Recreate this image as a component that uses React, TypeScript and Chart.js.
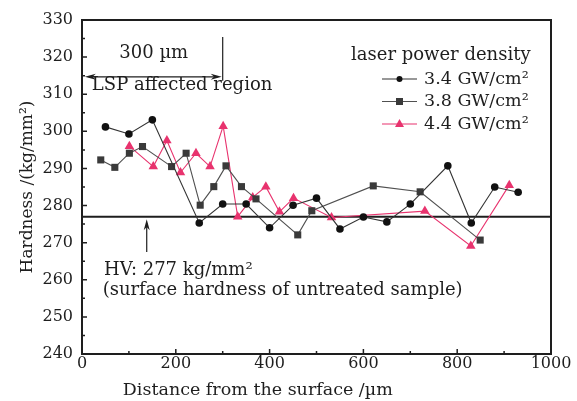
import { useEffect, useRef } from "react";
import { Chart, registerables } from "chart.js";

Chart.register(...registerables);

// ---- data ----
const xTicks = [0, 200, 400, 600, 800, 1000];
const yTicks = [240, 250, 260, 270, 280, 290, 300, 310, 320, 330];

const seriesLabels = ["3.4 GW/cm²", "3.8 GW/cm²", "4.4 GW/cm²"];

const dist34 = [50, 100, 150, 250, 300, 350, 400, 450, 500, 550, 600, 650, 700, 780, 830, 880, 930];
const hard34 = [301.2, 299.3, 303.1, 275.3, 280.4, 280.4, 274.0, 280.1, 282.0, 273.7, 276.9, 275.6, 280.4, 290.7, 275.3, 285.0, 283.6];

const dist38 = [40, 70, 101, 129, 191, 222, 252, 281, 307, 340, 371, 460, 490, 621, 721, 849];
const hard38 = [292.3, 290.3, 294.1, 295.9, 290.5, 294.1, 280.1, 285.1, 290.7, 285.1, 281.8, 272.1, 278.6, 285.3, 283.7, 270.7];

const dist44 = [101, 152, 181, 210, 243, 273, 301, 332, 364, 392, 421, 451, 532, 731, 829, 911];
const hard44 = [296.0, 290.5, 297.5, 288.9, 294.1, 290.5, 301.4, 277.0, 282.2, 285.1, 278.3, 282.0, 276.8, 278.5, 269.1, 285.5];

const untreatedHV = 277;
const lspDepth = 300;

const xTitle = "Distance from the surface /µm";
const yTitle = "Hardness /(kg/mm²)";

// annotation anchor points in data units
const ANN = {
  rangeText: { x: 153, y: 321.1 },
  rangeArrowY: 314.7,
  rangeArrowFrom: 6,
  rangeBarTop: 325.4,
  rangeBarBottom: 313.6,
  regionText: { x: 21, y: 312.5 },
  upArrowX: 138,
  upArrowFrom: 267.5,
  upArrowTo: 276.3,
  hvText: { x: 47, y: 262.6 },
  hvText2: { x: 44, y: 257.2 },
  xTitleStart: 87,
};

const FONT = '"DejaVu Serif", serif';
const INK = "#1e1e1e";
const PINK = "#e8336e";

function pts(xs: number[], ys: number[]) {
  return xs.map((x, i) => ({ x, y: ys[i] }));
}

function arrowHead(ctx: CanvasRenderingContext2D, tx: number, ty: number, dx: number, dy: number, len = 10, half = 3) {
  const px = -dy, py = dx;
  ctx.beginPath();
  ctx.moveTo(tx, ty);
  ctx.lineTo(tx - dx * len + px * half, ty - dy * len + py * half);
  ctx.lineTo(tx - dx * len * 0.7, ty - dy * len * 0.7);
  ctx.lineTo(tx - dx * len - px * half, ty - dy * len - py * half);
  ctx.closePath();
  ctx.fill();
}

const decor = {
  id: "decor",
  beforeDatasetsDraw(chart: any) {
    const { ctx, chartArea: a, scales } = chart;
    const y = scales.y.getPixelForValue(untreatedHV);
    ctx.save();
    ctx.strokeStyle = INK;
    ctx.lineWidth = 2;
    ctx.beginPath();
    ctx.moveTo(a.left, y);
    ctx.lineTo(a.right, y);
    ctx.stroke();
    ctx.restore();
  },
  afterDraw(chart: any) {
    const { ctx, chartArea: a, scales } = chart;
    const xs = scales.x, ys = scales.y;
    ctx.save();
    ctx.strokeStyle = INK;
    ctx.fillStyle = INK;
    // frame top/right
    ctx.lineWidth = 2;
    ctx.beginPath();
    ctx.moveTo(a.left, a.top);
    ctx.lineTo(a.right, a.top);
    ctx.lineTo(a.right, a.bottom);
    ctx.stroke();
    // inward ticks
    ctx.lineWidth = 1.5;
    ctx.beginPath();
    for (let v = 240; v <= 330; v += 5) {
      const p = ys.getPixelForValue(v);
      const len = v % 10 === 0 ? 5 : 3;
      ctx.moveTo(a.left, p);
      ctx.lineTo(a.left + len, p);
    }
    for (let v = 0; v <= 1000; v += 100) {
      const p = xs.getPixelForValue(v);
      const len = v % 200 === 0 ? 5 : 3;
      ctx.moveTo(p, a.bottom);
      ctx.lineTo(p, a.bottom - len);
    }
    ctx.stroke();

    // LSP range arrow
    const ay = ys.getPixelForValue(ANN.rangeArrowY);
    const ax0 = xs.getPixelForValue(ANN.rangeArrowFrom);
    const ax1 = xs.getPixelForValue(lspDepth) - 1;
    ctx.lineWidth = 1.2;
    ctx.beginPath();
    ctx.moveTo(ax0 + 4, ay);
    ctx.lineTo(ax1 - 4, ay);
    ctx.stroke();
    arrowHead(ctx, ax0, ay, -1, 0, 11, 3);
    arrowHead(ctx, ax1, ay, 1, 0, 11, 3);
    const bx = xs.getPixelForValue(lspDepth);
    ctx.beginPath();
    ctx.moveTo(bx, ys.getPixelForValue(ANN.rangeBarTop));
    ctx.lineTo(bx, ys.getPixelForValue(ANN.rangeBarBottom));
    ctx.stroke();

    // up arrow to HV line
    const ux = xs.getPixelForValue(ANN.upArrowX);
    const uy0 = ys.getPixelForValue(ANN.upArrowFrom);
    const uy1 = ys.getPixelForValue(ANN.upArrowTo);
    ctx.beginPath();
    ctx.moveTo(ux, uy0);
    ctx.lineTo(ux, uy1 + 4);
    ctx.stroke();
    arrowHead(ctx, ux, uy1, 0, -1, 11, 3);

    // texts
    ctx.font = `18px ${FONT}`;
    ctx.textBaseline = "middle";
    ctx.textAlign = "center";
    ctx.fillText("300 µm", xs.getPixelForValue(ANN.rangeText.x), ys.getPixelForValue(ANN.rangeText.y));
    ctx.textAlign = "left";
    ctx.fillText("LSP affected region", xs.getPixelForValue(ANN.regionText.x), ys.getPixelForValue(ANN.regionText.y));
    ctx.fillText("HV: 277 kg/mm²", xs.getPixelForValue(ANN.hvText.x), ys.getPixelForValue(ANN.hvText.y));
    ctx.fillText("(surface hardness of untreated sample)", xs.getPixelForValue(ANN.hvText2.x), ys.getPixelForValue(ANN.hvText2.y));

    // x-axis title (offset left as in the reference)
    ctx.font = `17.5px ${FONT}`;
    ctx.fillText(xTitle, xs.getPixelForValue(ANN.xTitleStart), a.bottom + 36);

    // legend
    ctx.font = `18px ${FONT}`;
    const lx = a.right - 200;
    ctx.fillText("laser power density", lx, a.top + 35);
    const rowY = [a.top + 59, a.top + 81.5, a.top + 104];
    ctx.font = `17.5px ${FONT}`;
    chart.data.datasets.forEach((ds: any, i: number) => {
      const y = rowY[i];
      const x0 = lx + 31, x1 = lx + 66, xm = (x0 + x1) / 2;
      ctx.strokeStyle = ds.borderColor;
      ctx.lineWidth = 1.2;
      ctx.beginPath();
      ctx.moveTo(x0, y);
      ctx.lineTo(x1, y);
      ctx.stroke();
      ctx.fillStyle = ds.pointBackgroundColor;
      ctx.beginPath();
      if (ds.pointStyle === "circle") {
        ctx.arc(xm, y, 3, 0, Math.PI * 2);
      } else if (ds.pointStyle === "rect") {
        ctx.rect(xm - 3.5, y - 3.5, 7, 7);
      } else {
        ctx.moveTo(xm, y - 5);
        ctx.lineTo(xm + 4.5, y + 3);
        ctx.lineTo(xm - 4.5, y + 3);
        ctx.closePath();
      }
      ctx.fill();
      ctx.fillStyle = INK;
      ctx.fillText(seriesLabels[i], lx + 73, y);
    });
    ctx.restore();
  },
};

export default function App() {
  const ref = useRef<HTMLCanvasElement>(null);
  useEffect(() => {
    const chart = new Chart(ref.current!, {
      type: "line",
      data: {
        datasets: [
          {
            label: seriesLabels[0],
            data: pts(dist34, hard34),
            borderColor: "#333333",
            borderWidth: 1.1,
            pointStyle: "circle",
            pointRadius: 3.8,
            pointBackgroundColor: "#111111",
            pointBorderColor: "#111111",
            pointBorderWidth: 0,
          },
          {
            label: seriesLabels[1],
            data: pts(dist38, hard38),
            borderColor: "#505050",
            borderWidth: 1.1,
            pointStyle: "rect",
            pointRadius: 5,
            pointBackgroundColor: "#3a3a3a",
            pointBorderColor: "#3a3a3a",
            pointBorderWidth: 0,
          },
          {
            label: seriesLabels[2],
            data: pts(dist44, hard44),
            borderColor: PINK,
            borderWidth: 1.1,
            pointStyle: "triangle",
            pointRadius: 5.5,
            pointBackgroundColor: PINK,
            pointBorderColor: PINK,
            pointBorderWidth: 0,
          },
        ],
      },
      options: {
        responsive: false,
        animation: false,
        devicePixelRatio: 1,
        layout: { padding: { top: 20, right: 26, left: 0, bottom: 0 } },
        plugins: { legend: { display: false }, tooltip: { enabled: false } },
        scales: {
          x: {
            type: "linear",
            min: 0,
            max: 1000,
            afterBuildTicks: (s: any) => { s.ticks = xTicks.map((v) => ({ value: v })); },
            afterFit: (s: any) => { s.height = 47; },
            ticks: {
              font: { family: FONT, size: 16 },
              color: INK,
              padding: 0,
              maxRotation: 0,
              callback: (v: any) => String(v),
            },
            grid: { display: false, drawTicks: false },
            border: { display: true, color: INK, width: 2 },
            title: { display: false },
          },
          y: {
            type: "linear",
            min: 240,
            max: 330,
            afterBuildTicks: (s: any) => { s.ticks = yTicks.map((v) => ({ value: v })); },
            afterFit: (s: any) => { s.width = 82; },
            ticks: { font: { family: FONT, size: 16 }, color: INK, padding: 9, callback: (v: any) => String(v) },
            grid: { display: false, drawTicks: false },
            border: { display: true, color: INK, width: 2 },
            title: {
              display: true,
              text: yTitle,
              font: { family: FONT, size: 17 },
              color: INK,
              padding: { top: 17, bottom: 0 },
            },
          },
        },
      },
      plugins: [decor],
    } as any);
    return () => chart.destroy();
  }, []);
  return (
    <div style={{ position: "fixed", left: 0, top: 0, width: 577, height: 401, background: "#fff" }}>
      <canvas ref={ref} width={577} height={401} />
    </div>
  );
}
